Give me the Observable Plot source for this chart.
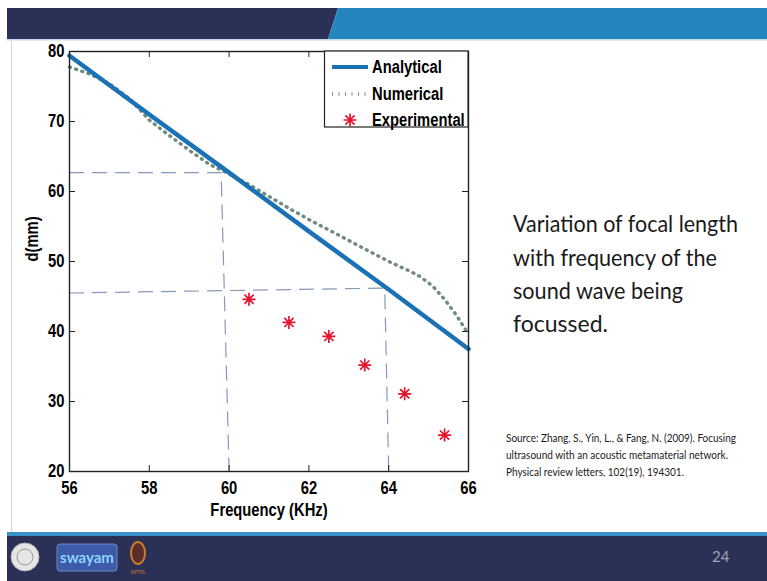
<!DOCTYPE html>
<html><head><meta charset="utf-8">
<script src="https://cdn.jsdelivr.net/npm/d3@7"></script>
<script src="https://cdn.jsdelivr.net/npm/@observablehq/plot@0.6"></script>
<style>
body{margin:0;background:#fff}
#slide{position:relative;width:767px;height:581px;overflow:hidden;background:#fff}
#chart{position:absolute;left:0;top:40px}
#over{position:absolute;left:0;top:0;pointer-events:none}
</style></head>
<body><div id="slide"><div id="chart"></div><svg id="over" width="767" height="581"></svg></div>
<script>
// ---- data ----
const freqTicks = [56, 58, 60, 62, 64, 66];
const dTicks = [20, 30, 40, 50, 60, 70, 80];

const analyticalFreq = [56, 58, 60, 62, 64, 66];
const analyticalD    = [79.4, 71.0, 62.7, 54.3, 46.0, 37.5];

const numericalFreq = [56, 56.5, 57, 57.5, 58, 58.5, 59, 59.5, 60, 60.5, 61, 61.5, 62, 62.5, 63, 63.5, 64, 64.5, 64.8, 65.1, 65.4, 65.7, 66];
const numericalD    = [77.8, 76.8, 75.4, 73.3, 70.2, 68.0, 65.9, 63.9, 62.5, 61.0, 59.3, 57.6, 56.0, 54.5, 53.0, 51.5, 50.0, 48.7, 47.8, 46.5, 44.6, 42.3, 39.6];

const experimentalFreq = [60.5, 61.5, 62.5, 63.4, 64.4, 65.4];
const experimentalD    = [44.6, 41.3, 39.3, 35.2, 31.1, 25.2];

// hand-drawn guide lines (read-off annotation)
const guide1Freq = [56, 59.8, 59.8, 60.0];
const guide1D    = [62.7, 62.7, 62.7, 20];
const guide2Freq = [56, 63.9, 63.9, 64.0];
const guide2D    = [45.5, 46.2, 46.2, 20];

const seriesNames = ["Analytical", "Numerical", "Experimental"];
const xLabel = "Frequency (KHz)";
const yLabel = "d(mm)";
const sideText = ["Variation of focal length", "with frequency of the", "sound wave being", "focussed."];
const sourceText = ["Source: Zhang, S., Yin, L., & Fang, N. (2009). Focusing",
                    "ultrasound with an acoustic metamaterial network.",
                    "Physical review letters, 102(19), 194301."];
const pageNumber = "24";

// ---- build tables ----
const zip = (xs, ys) => xs.map((x, i) => ({x, y: ys[i]}));
const analytical = zip(analyticalFreq, analyticalD);
const numerical = zip(numericalFreq, numericalD);
const experimental = zip(experimentalFreq, experimentalD);
const guide1 = zip(guide1Freq, guide1D);
const guide2 = zip(guide2Freq, guide2D);

const CF = "'Liberation Sans', Arial, sans-serif";
const NARROW = 0.82;
const BLUE = "#1a72b4", NUMC = "#6f8c80", RED = "#e3152f", GUIDE = "#8799ba";

const star8 = {
  draw(ctx, size) {
    const r = Math.sqrt(size / Math.PI), d = r * Math.SQRT1_2;
    ctx.moveTo(-r, 0); ctx.lineTo(r, 0);
    ctx.moveTo(0, -r); ctx.lineTo(0, r);
    ctx.moveTo(-d, -d); ctx.lineTo(d, d);
    ctx.moveTo(-d, d); ctx.lineTo(d, -d);
  }
};

const W = 490, H = 490, mL = 69, mR = 22, mT = 11, mB = 59;
const innerW = W - mL - mR, innerH = H - mT - mB;

const chart = Plot.plot({
  width: W, height: H,
  marginLeft: mL, marginRight: mR, marginTop: mT, marginBottom: mB,
  style: {fontFamily: CF, fontSize: "18px", fontWeight: "bold", background: "transparent", color: "#000", overflow: "visible"},
  x: {domain: [56, 66]},
  y: {domain: [20, 80]},
  marks: [
    Plot.line(guide1, {x: "x", y: "y", stroke: GUIDE, strokeWidth: 1.2, strokeDasharray: "14,9"}),
    Plot.line(guide2, {x: "x", y: "y", stroke: GUIDE, strokeWidth: 1.2, strokeDasharray: "14,9"}),
    Plot.line(numerical, {x: "x", y: "y", stroke: NUMC, strokeWidth: 3.4, strokeDasharray: "1,5.5"}),
    Plot.line(analytical, {x: "x", y: "y", stroke: BLUE, strokeWidth: 4.5}),
    Plot.dot(experimental, {x: "x", y: "y", r: 6.5, symbol: star8, stroke: RED, strokeWidth: 1.7}),
    Plot.frame({stroke: "#222", strokeWidth: 1.4}),
    Plot.tickX(freqTicks, {x: d => d, insetTop: innerH - 6, stroke: "#222"}),
    Plot.tickX(freqTicks, {x: d => d, insetBottom: innerH - 6, stroke: "#222"}),
    Plot.tickY(dTicks, {y: d => d, insetRight: innerW - 6, stroke: "#222"}),
    Plot.tickY(dTicks, {y: d => d, insetLeft: innerW - 6, stroke: "#222"}),
    Plot.axisX(freqTicks, {tickSize: 0, tickPadding: 10, label: null, tickFormat: d => String(d)}),
    Plot.axisY(dTicks, {tickSize: 0, tickPadding: 5, label: null, tickFormat: d => String(d)}),
    Plot.text([xLabel], {frameAnchor: "bottom", dy: 39, text: d => d, lineAnchor: "middle", fontSize: 18}),
    Plot.text([yLabel], {frameAnchor: "left", dx: -37, rotate: -90, text: d => d, lineAnchor: "middle", fontSize: 18})
  ]
});
document.getElementById("chart").appendChild(chart);

function narrow(sel) {
  sel.each(function () {
    const L = this.getComputedTextLength();
    if (L > 0) {
      this.setAttribute("textLength", L * NARROW);
      this.setAttribute("lengthAdjust", "spacingAndGlyphs");
    }
  });
}
narrow(d3.select(chart).selectAll("text"));

// ---- slide decoration & legend ----
const svg = d3.select("#over");
const NAVY = "#2b3056", SKY = "#2485bf";
svg.append("polygon").attr("points", "7,8 338,8 328,39 7,39").attr("fill", NAVY);
svg.append("polygon").attr("points", "338,8 767,8 767,39 328,39").attr("fill", SKY);
svg.append("rect").attr("x", 7).attr("y", 39).attr("width", 760).attr("height", 1.5).attr("fill", "#c6d6e8");
svg.append("line").attr("x1", 11.5).attr("x2", 11.5).attr("y1", 41).attr("y2", 532).attr("stroke", "#d4d4d4").attr("stroke-width", 1);
svg.append("rect").attr("x", 7).attr("y", 532).attr("width", 760).attr("height", 4).attr("fill", "#3a92c9");
svg.append("rect").attr("x", 7).attr("y", 536).attr("width", 760).attr("height", 45).attr("fill", NAVY);
svg.append("text").attr("x", 712).attr("y", 562).attr("fill", "#9ea3ba").attr("font-family", "Lato, sans-serif").attr("font-size", 15).text(pageNumber);

// logos (simplified)
svg.append("circle").attr("cx", 25).attr("cy", 557).attr("r", 14).attr("fill", "#e6e6e6").attr("stroke", "#b0b0b0");
svg.append("circle").attr("cx", 25).attr("cy", 557).attr("r", 8).attr("fill", "none").attr("stroke", "#999");
svg.append("rect").attr("x", 57).attr("y", 544).attr("width", 60).attr("height", 27).attr("rx", 3).attr("fill", "#3d5ba8").attr("stroke", "#6f87c8");
svg.append("text").attr("x", 87).attr("y", 563).attr("text-anchor", "middle").attr("fill", "#8fd3ff").attr("font-family", "Lato, sans-serif").attr("font-weight", "bold").attr("font-size", 15).text("swayam");
svg.append("ellipse").attr("cx", 138).attr("cy", 553).attr("rx", 7).attr("ry", 11).attr("fill", "#5a2d2a").attr("stroke", "#c97b2e").attr("stroke-width", 2);
svg.append("text").attr("x", 138).attr("y", 574).attr("text-anchor", "middle").attr("fill", "#c97b2e").attr("font-family", "Lato, sans-serif").attr("font-size", 5).text("NPTEL");

// side text
const sideX = 513, sideBase = [232, 266, 299, 332], sideLen = [225, 204, 170, 95];
sideText.forEach((t, i) => {
  svg.append("text").attr("x", sideX).attr("y", sideBase[i]).attr("fill", "#1a1a1a")
    .attr("font-family", "Lato, 'Open Sans', sans-serif").attr("font-size", 23)
    .attr("textLength", sideLen[i]).attr("lengthAdjust", "spacingAndGlyphs").text(t);
});
const srcBase = [442, 459, 476], srcLen = [230, 222, 178];
sourceText.forEach((t, i) => {
  svg.append("text").attr("x", 506).attr("y", srcBase[i]).attr("fill", "#1a1a1a")
    .attr("font-family", "Lato, 'Open Sans', sans-serif").attr("font-size", 11)
    .attr("textLength", srcLen[i]).attr("lengthAdjust", "spacingAndGlyphs").text(t);
});

// legend
const lg = svg.append("g").attr("font-family", CF).attr("font-weight", "bold").attr("font-size", 18);
lg.append("rect").attr("x", 324.5).attr("y", 51).attr("width", 143.5).attr("height", 76).attr("fill", "#fff").attr("stroke", "#222").attr("stroke-width", 1.2);
const rowY = [67, 94, 120];
lg.append("line").attr("x1", 332).attr("x2", 368).attr("y1", rowY[0]).attr("y2", rowY[0]).attr("stroke", BLUE).attr("stroke-width", 4);
lg.append("line").attr("x1", 332).attr("x2", 368).attr("y1", rowY[1]).attr("y2", rowY[1]).attr("stroke", NUMC).attr("stroke-width", 3.4).attr("stroke-dasharray", "1,5.5");
lg.append("path").attr("transform", `translate(350,${rowY[2]})`).attr("d", d3.symbol(star8, Math.PI * 6.5 * 6.5)()).attr("fill", "none").attr("stroke", RED).attr("stroke-width", 1.7);
seriesNames.forEach((n, i) => {
  lg.append("text").attr("x", 372).attr("y", rowY[i]).attr("dy", "0.35em").attr("fill", "#000").text(n);
});
narrow(lg.selectAll("text"));
</script>
</body></html>
